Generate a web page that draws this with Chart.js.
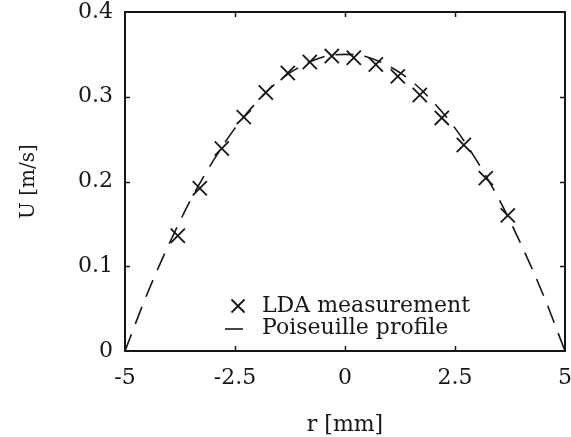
<!DOCTYPE html>
<html>
<head>
<meta charset="utf-8">
<script src="https://cdn.jsdelivr.net/npm/chart.js@4.4.1/dist/chart.umd.min.js"></script>
<style>
  html, body { margin: 0; padding: 0; background: #fff; }
  #wrap { width: 571px; height: 437px; }
</style>
</head>
<body>
<div id="wrap"><canvas id="c" width="571" height="437"></canvas></div>
<script>
// Measured LDA points (r in mm, U in m/s)
const rMeasured = [-3.8, -3.3, -2.8, -2.3, -1.8, -1.3, -0.8, -0.3, 0.2, 0.7, 1.2, 1.7, 2.2, 2.7, 3.2, 3.7];
const uMeasured = [0.136, 0.192, 0.239, 0.276, 0.305, 0.328, 0.341, 0.348, 0.346, 0.338, 0.324, 0.302, 0.275, 0.243, 0.204, 0.160];

// Poiseuille profile
const rProfile = [-5, -4.5, -4, -3.5, -3, -2.5, -2, -1.5, -1, -0.5, 0, 0.5, 1, 1.5, 2, 2.5, 3, 3.5, 4, 4.5, 5];
const uProfile = [0, 0.067, 0.126, 0.179, 0.224, 0.263, 0.294, 0.319, 0.336, 0.347, 0.350, 0.347, 0.336, 0.319, 0.294, 0.263, 0.224, 0.179, 0.126, 0.067, 0];

// Axis ticks
const xTicks = [-5, -2.5, 0, 2.5, 5];
const xTickLabels = ['-5', '-2.5', '0', '2.5', '5'];
const yTicks = [0, 0.1, 0.2, 0.3, 0.4];
const yTickLabels = ['0', '0.1', '0.2', '0.3', '0.4'];

const seriesLabels = ['LDA measurement', 'Poiseuille profile'];
const xTitle = 'r [mm]';
const yTitle = 'U [m/s]';

const FONT = "'DejaVu Serif', 'Liberation Serif', serif";
const INK = '#161616';

const framePlugin = {
  id: 'frame',
  afterDraw(chart) {
    const { ctx, chartArea: { left, right, top, bottom }, scales: { x, y } } = chart;
    ctx.save();
    ctx.strokeStyle = INK;
    ctx.lineWidth = 1.5;
    const tl = 5;
    ctx.beginPath();
    xTicks.forEach(v => {
      const px = Math.round(x.getPixelForValue(v)) + 0.5;
      if (px <= left + 2 || px >= right - 2) return;
      ctx.moveTo(px, bottom); ctx.lineTo(px, bottom - tl);
      ctx.moveTo(px, top); ctx.lineTo(px, top + tl);
    });
    yTicks.forEach(v => {
      const py = Math.round(y.getPixelForValue(v)) + 0.5;
      if (py <= top + 2 || py >= bottom - 2) return;
      ctx.moveTo(left, py); ctx.lineTo(left + tl, py);
      ctx.moveTo(right, py); ctx.lineTo(right - tl, py);
    });
    ctx.stroke();
    ctx.lineWidth = 2;
    ctx.strokeRect(left, top, right - left, bottom - top);

    // legend inside the plot
    const tx = left + 137;
    const y1 = bottom - 45;
    const y2 = bottom - 23;
    ctx.fillStyle = INK;
    ctx.font = "22px " + FONT;
    ctx.textBaseline = 'middle';
    ctx.textAlign = 'left';
    ctx.fillText(seriesLabels[0], tx, y1);
    ctx.fillText(seriesLabels[1], tx, y2);
    // cross marker
    const cx = tx - 24, d = 6.5;
    ctx.lineWidth = 1.8;
    ctx.beginPath();
    ctx.moveTo(cx - d, y1 - d); ctx.lineTo(cx + d, y1 + d);
    ctx.moveTo(cx - d, y1 + d); ctx.lineTo(cx + d, y1 - d);
    ctx.stroke();
    // dash sample
    ctx.lineWidth = 1.6;
    ctx.beginPath();
    ctx.moveTo(tx - 37, y2 + 1); ctx.lineTo(tx - 19, y2 + 1);
    ctx.stroke();
    ctx.restore();
  }
};

new Chart(document.getElementById('c'), {
  type: 'scatter',
  data: {
    datasets: [
      {
        label: seriesLabels[0],
        data: rMeasured.map((r, i) => ({ x: r, y: uMeasured[i] })),
        pointStyle: 'crossRot',
        pointRadius: 10,
        pointBorderWidth: 1.8,
        borderColor: INK,
        backgroundColor: INK,
        showLine: false,
        order: 1
      },
      {
        label: seriesLabels[1],
        data: rProfile.map((r, i) => ({ x: r, y: uProfile[i] })),
        showLine: true,
        borderColor: INK,
        borderWidth: 1.6,
        borderDash: [18, 11],
        pointRadius: 0,
        cubicInterpolationMode: 'monotone',
        fill: false,
        order: 2
      }
    ]
  },
  options: {
    responsive: false,
    animation: false,
    events: [],
    layout: { autoPadding: false, padding: { top: 12, right: 6, left: 10, bottom: 0 } },
    plugins: { legend: { display: false }, tooltip: { enabled: false } },
    scales: {
      x: {
        type: 'linear',
        min: -5, max: 5,
        afterBuildTicks: s => { s.ticks = xTicks.map(v => ({ value: v })); },
        afterFit: s => { s.height = 437 - 351; s.paddingLeft = 0; s.paddingRight = 0; },
        grid: { display: false, drawTicks: false },
        border: { display: false },
        ticks: {
          padding: 14,
          color: INK,
          font: { family: FONT, size: 22 },
          maxRotation: 0,
          callback: (v, i) => xTickLabels[i]
        },
        title: {
          display: true, text: xTitle, color: INK,
          font: { family: FONT, size: 22, lineHeight: 1.0 },
          padding: { top: 0, bottom: 1 }
        }
      },
      y: {
        type: 'linear',
        min: 0, max: 0.4,
        afterBuildTicks: s => { s.ticks = yTicks.map(v => ({ value: v })); },
        afterFit: s => { s.width = 125 - 10; s.paddingTop = 0; s.paddingBottom = 0; },
        grid: { display: false, drawTicks: false },
        border: { display: false },
        ticks: {
          padding: 12,
          color: INK,
          font: { family: FONT, size: 22 },
          callback: (v, i) => yTickLabels[i]
        },
        title: {
          display: true, text: yTitle, color: INK,
          font: { family: FONT, size: 20 },
          padding: { top: 7, bottom: 0 }
        }
      }
    }
  },
  plugins: [framePlugin]
});
</script>
</body>
</html>
